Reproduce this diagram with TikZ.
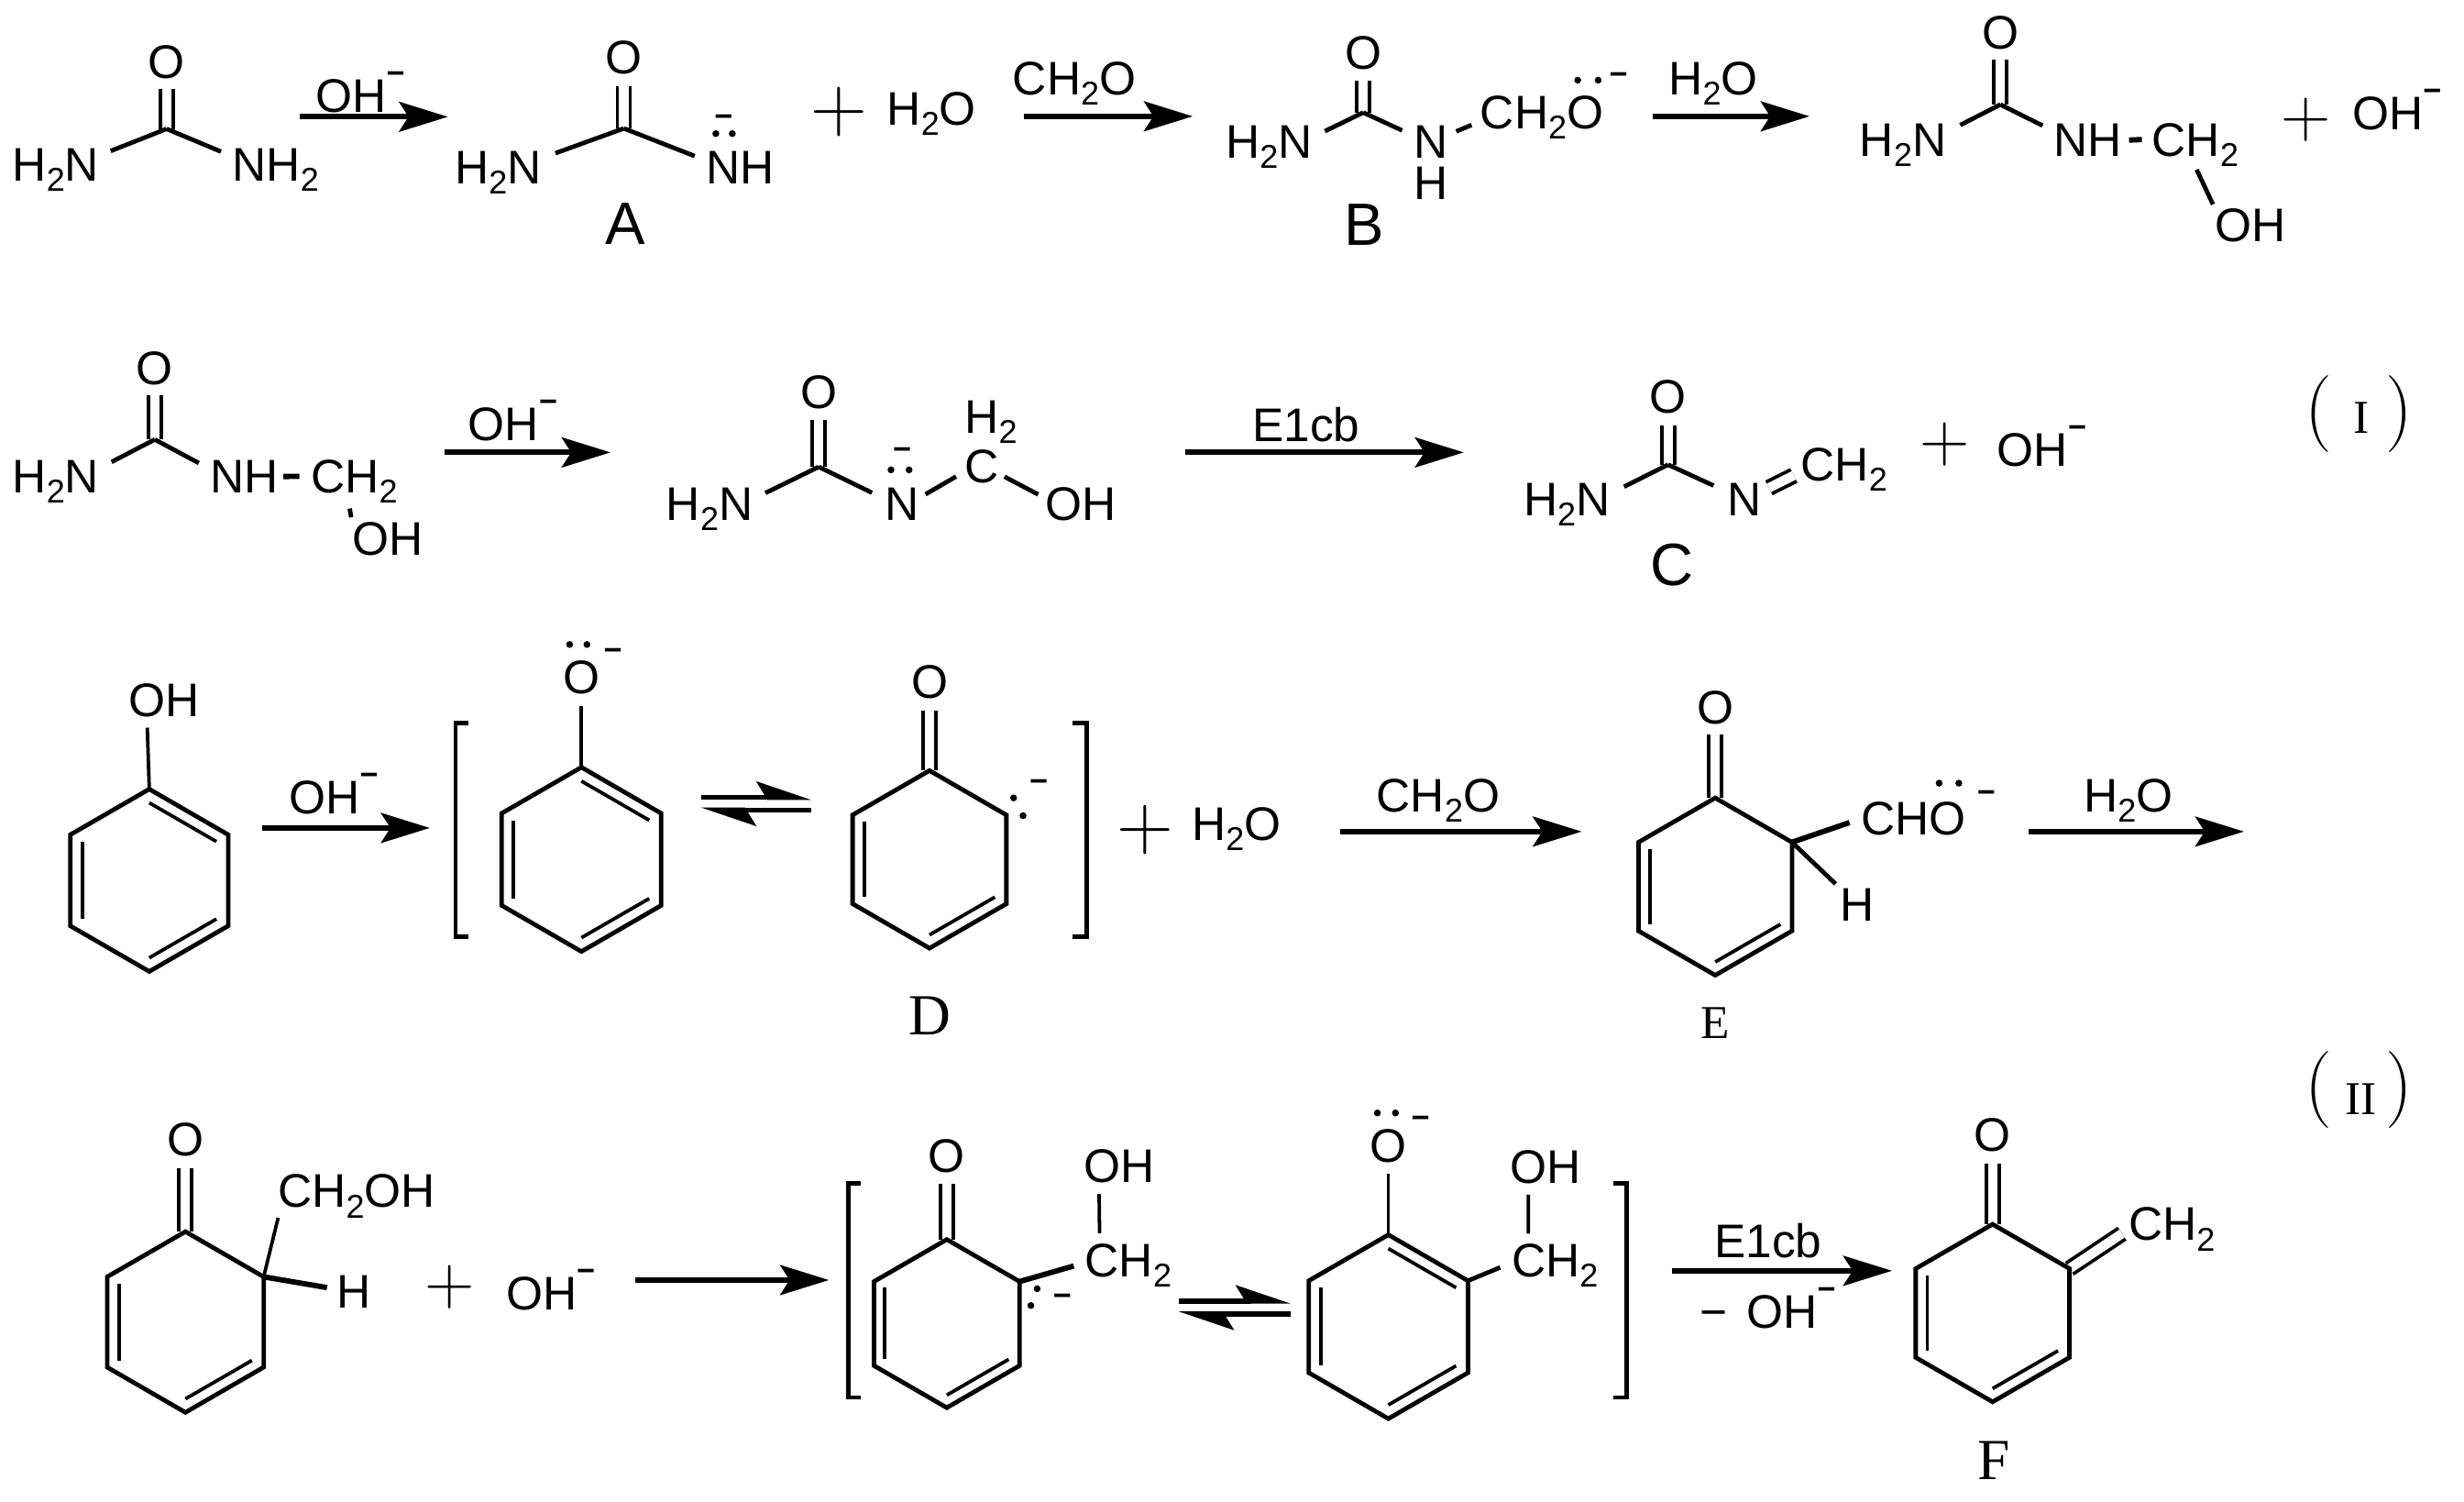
\documentclass[tikz,border=0pt]{standalone}
\usepackage{fontspec}
\setsansfont{Liberation Sans}
\newfontfamily\timesfont{Liberation Serif}
\usetikzlibrary{arrows.meta,calc,backgrounds}

\newcommand{\subtwo}{\raisebox{-6.5pt}{\fontsize{21}{21}\selectfont 2}}
\newcommand{\mns}{\raisebox{18pt}{\fontsize{20}{20}\bfseries\selectfont −}}
\tikzset{
  txt/.style={inner sep=0pt,outer sep=0pt,anchor=base west,font=\sffamily\fontsize{30}{30}\selectfont},
  atom/.style={txt,xshift=-2pt},
  oatom/.style={txt,anchor=base},
  lab/.style={txt,anchor=base,font=\sffamily\fontsize{38}{38}\selectfont},
  rlab/.style={txt,anchor=base,font=\timesfont\fontsize{#1}{#1}\selectfont},
  rlab/.default=37,
  num/.style={txt,anchor=base,font=\timesfont\fontsize{30}{30}\selectfont},
  brace/.style={txt,font=\rmfamily\fontsize{49}{49}\selectfont},
  plusn/.style={inner sep=0pt,outer sep=0pt,font=\rmfamily\fontsize{#1}{#1}\selectfont},
  plusn/.default=44,
  chg/.style={inner sep=0pt,outer sep=0pt,font=\sffamily\bfseries\fontsize{20}{20}\selectfont},
  lp/.style={circle,fill=black,inner sep=0pt,minimum size=4.4pt},
  bond/.style={line width=2.8pt},
  dbond/.style={line width=2.2pt,double,double distance=6pt},
  ibond/.style={line width=2.2pt},
  brk/.style={line width=2.6pt},
  rxn/.style={line width=3.4pt,-{Stealth[length=31pt,width=19pt,inset=6pt]}},
  eqtop/.style={line width=3.4pt,-{Stealth[harpoon,length=30pt,width=20pt,inset=6pt]}}
}
\newcommand{\hexring}[4]{%
  \coordinate (#1o) at (#2,#3);
  \coordinate (#1a) at (#2,{#3-#4});
  \coordinate (#1b) at ({#2+0.866*#4},{#3-0.5*#4});
  \coordinate (#1c) at ({#2+0.866*#4},{#3+0.5*#4});
  \coordinate (#1d) at (#2,{#3+#4});
  \coordinate (#1e) at ({#2-0.866*#4},{#3+0.5*#4});
  \coordinate (#1f) at ({#2-0.866*#4},{#3-0.5*#4});
  \draw[bond] (#1a) -- (#1b) -- (#1c) -- (#1d) -- (#1e) -- (#1f) -- cycle;
}
\newcommand{\innerbond}[3]{\draw[ibond] ($(#1#2)!0.15!(#1o)$) -- ($(#1#3)!0.15!(#1o)$);}

\begin{document}
\begin{tikzpicture}[x=1pt,y=-1pt]
\useasboundingbox (0,0) rectangle (1568,955);
%First row: urea
\coordinate (cU) at (106,82);
\node[oatom] (oU) at (106,49.6) {O};
\node[atom] (hnU) at (10,115) {H\subtwo N};
\node[atom] (nhU) at (150,115) {NH\subtwo};
\draw[dbond,shorten >=6.4pt] (cU) -- (oU.south);
\draw[bond,shorten >=8pt] (cU) -- (hnU.18);
\draw[bond,shorten >=8pt] (cU) -- (nhU.163);
\coordinate (a1s) at (191,74.3);
\coordinate (a1e) at (285,74.3);
\draw[rxn] (a1s) -- (a1e);
\node[atom] (ohA1) at (203,71.5) {OH\mns};
%A
\coordinate (cA) at (397,81.7);
\node[oatom] (oA) at (397,46.7) {O};
\node[atom] (hnA) at (291.5,116.7) {H\subtwo N};
\node[atom] (nhA) at (451.5,116.7) {NH};
\node[lab] (labA) at (398,155.6) {A};
\node[lp] (dA1) at (455.5,85) {};
\node[lp] (dA2) at (466,85) {};
\node[chg] (mA) at (460.5,76.8) {−};
\draw[dbond,shorten >=7.8pt] (cA) -- (oA.south);
\draw[bond,shorten >=9.5pt] (cA) -- (hnA.18);
\draw[bond,shorten >=8pt] (cA) -- (nhA.169);
\node[plusn=50] (plus1) at (534,71) {+};
\node[atom] (wat1) at (566.5,79.8) {H\subtwo O};
\coordinate (a2s) at (651.5,74);
\coordinate (a2e) at (759,74);
\draw[rxn] (a2s) -- (a2e);
\node[atom] (form1) at (646.5,60.3) {CH\subtwo O};
%B
\coordinate (cB) at (867.5,71.6);
\node[oatom] (oB) at (867.5,43.8) {O};
\node[atom] (hnB) at (782,100.8) {H\subtwo N};
\node[atom] (nB) at (901.5,100.8) {N};
\node[atom] (hB) at (902,127) {H};
\node[atom] (chB) at (944,81.7) {CH\subtwo O};
\node[lp] (dB1) at (1004,51) {};
\node[lp] (dB2) at (1017,51) {};
\node[chg] (mB) at (1030,50) {−};
\node[lab] (labB) at (868,156) {B};
\draw[dbond,shorten >=7.2pt] (cB) -- (oB.south);
\draw[bond,shorten >=9pt] (cB) -- (hnB.13);
\draw[bond,shorten >=8pt] (cB) -- (nB.159);
\draw[bond,shorten <=6pt,shorten >=6pt] (nB.23) -- (chB.184);
\coordinate (a3s) at (1051.5,74);
\coordinate (a3e) at (1151.5,74);
\draw[rxn] (a3s) -- (a3e);
\node[atom] (wat2) at (1064,60.3) {H\subtwo O};
%Methylol urea
\coordinate (cP) at (1273,66.5);
\node[oatom] (oP) at (1273,31) {O};
\node[atom] (hnP) at (1185.5,99.6) {H\subtwo N};
\node[atom] (nhP) at (1309,99.6) {NH};
\node[atom] (chP) at (1371.5,99.6) {CH\subtwo};
\node[atom] (ohP) at (1411.5,153.7) {OH};
\draw[dbond,shorten >=6.4pt] (cP) -- (oP.south);
\draw[bond,shorten >=10pt] (cP) -- (hnP.17);
\draw[bond,shorten >=8pt] (cP) -- (nhP.165);
\draw[bond,line width=3.4pt,shorten <=4.5pt,shorten >=6.5pt] (nhP.east) -- (chP.172);
\draw[bond,shorten <=2pt,shorten >=3pt] (chP.south) -- (ohP.north west);
\node[plusn] (plus2) at (1467.5,76.3) {+};
\node[atom] (ohP2) at (1499,82.7) {OH\mns};

%Second row
\coordinate (cV) at (98.5,279.6);
\node[oatom] (oV) at (98.5,244.6) {O};
\node[atom] (hnV) at (10,313.5) {H\subtwo N};
\node[atom] (nhV) at (136,313.5) {NH};
\node[atom] (chV) at (200,313.5) {CH\subtwo};
\node[atom] (ohV) at (226,353) {OH};
\coordinate (tickV) at (222.5,323.5);
\draw[dbond,shorten >=6.6pt] (cV) -- (oV.south);
\draw[bond,shorten >=9pt] (cV) -- (hnV.17);
\draw[bond,shorten >=8.5pt] (cV) -- (nhV.168);
\draw[bond,line width=3.4pt,shorten <=3pt,shorten >=7.5pt] (nhV.east) -- (chV.173);
\draw[bond,shorten >=3pt] (tickV) -- (ohV.north west);
\coordinate (a4s) at (283,287.8);
\coordinate (a4e) at (388.5,287.8);
\draw[rxn] (a4s) -- (a4e);
\node[atom] (ohA4) at (300,280) {OH\mns};
%Anion
\coordinate (cM) at (521,297);
\node[oatom] (oM) at (521,259.6) {O};
\node[atom] (hnM) at (426,331) {H\subtwo N};
\node[atom] (nM) at (565,331) {N};
\node[lp] (dM1) at (567,298.9) {};
\node[lp] (dM2) at (578.5,298.9) {};
\node[chg] (mM) at (574,288.8) {−};
\node[atom] (c2M) at (616,306.9) {C};
\node[atom] (h2M) at (616,275.5) {H\subtwo};
\node[atom] (ohM) at (667.5,331) {OH};
\draw[dbond,shorten >=7.2pt] (cM) -- (oM.south);
\draw[bond,shorten >=9pt] (cM) -- (hnM.13.5);
\draw[bond,shorten >=9pt] (cM) -- (nM.163);
\draw[bond,shorten <=5pt,shorten >=6.5pt] (nM.19) -- (c2M.197);
\draw[bond,shorten <=4pt,shorten >=5.5pt] (c2M.-24) -- (ohM.171);
\coordinate (a5s) at (754,287.8);
\coordinate (a5e) at (931.5,287.8);
\draw[rxn] (a5s) -- (a5e);
\node[atom] (e1cb1) at (799,281) {E1cb};
%C
\coordinate (cC) at (1061.5,295.6);
\node[oatom] (oC) at (1061.5,262.9) {O};
\node[atom] (hnC) at (971.5,328) {H\subtwo N};
\node[atom] (nC) at (1101.5,328) {N};
\node[atom] (chC) at (1148,306) {CH\subtwo};
\node[lab] (labC) at (1064,372.4) {C};
\draw[dbond,shorten >=7.4pt] (cC) -- (oC.south);
\draw[bond,shorten >=10pt] (cC) -- (hnC.14);
\draw[bond,shorten >=10pt] (cC) -- (nC.157);
\draw[dbond,shorten <=5pt,shorten >=5pt] (nC.25) -- (chC.183.5);
\node[plusn] (plus3) at (1237.5,283) {+};
\node[atom] (ohC) at (1273,296.5) {OH\mns};
\node[brace] (lpar1) at (1467,275.5) {(};
\node[num] (num1) at (1502.5,275.5) {I};
\node[brace] (rpar1) at (1518.3,275.5) {)};

%Third row: phenol
\hexring{ra}{95}{560}{58}
\innerbond{ra}{a}{b}
\innerbond{ra}{c}{d}
\innerbond{ra}{e}{f}
\node[atom] (ohR) at (84,455.6) {OH};
\draw[bond,line width=2.2pt,shorten >=7pt] (raa) -- (ohR.-136.6);
\coordinate (a6s) at (167,526.7);
\coordinate (a6e) at (273.5,526.7);
\draw[rxn] (a6s) -- (a6e);
\node[atom] (ohA6) at (186,517.7) {OH\mns};
\draw[brk] (298,459.9) -- (290,459.9) -- (290,596) -- (298,596);
%D
\hexring{rb}{370}{546.7}{58.6}
\innerbond{rb}{a}{b}
\innerbond{rb}{c}{d}
\innerbond{rb}{e}{f}
\node[oatom] (oRb) at (370,441) {O};
\node[lp] (dRb1) at (362.5,410) {};
\node[lp] (dRb2) at (373.5,410) {};
\node[chg] (mRb) at (390,416.7) {−};
\draw[bond,line width=2.2pt,shorten >=8pt] (rba) -- (oRb.south);
\coordinate (e1s) at (446,507.2);
\coordinate (e1e) at (516.5,507.2);
\coordinate (e2s) at (516.5,515.4);
\coordinate (e2e) at (446,515.4);
\draw[eqtop] (e1s) -- (e1e);
\draw[eqtop] (e2s) -- (e2e);
\hexring{rc}{591.5}{546.7}{56.5}
\innerbond{rc}{c}{d}
\innerbond{rc}{e}{f}
\node[oatom] (oRc) at (591.5,444.4) {O};
\node[lp] (dRc1) at (645,507.6) {};
\node[lp] (dRc2) at (651,518.9) {};
\node[chg] (mRc) at (661,499.8) {−};
\draw[brk] (682.5,459.9) -- (691.5,459.9) -- (691.5,596) -- (682.5,596);
\node[rlab] (labD) at (591.5,658.4) {D};
\node[plusn=50] (plus4) at (728.5,528) {+};
\node[atom] (wat3) at (760.5,534.4) {H\subtwo O};
\coordinate (a7s) at (853,529);
\coordinate (a7e) at (1006.5,529);
\draw[rxn] (a7s) -- (a7e);
\node[atom] (form2) at (878,516.3) {CH\subtwo O};
%E
\hexring{rd}{1091.5}{564}{56.4}
\innerbond{rd}{c}{d}
\innerbond{rd}{e}{f}
\node[oatom] (oRd) at (1091.5,460.5) {O};
\node[atom] (choE) at (1186.5,531) {CHO};
\node[lp] (dE1) at (1234,498.2) {};
\node[lp] (dE2) at (1246.5,498.2) {};
\node[chg] (mE) at (1264,506.6) {−};
\node[atom] (hE) at (1173,585.7) {H};
\draw[bond,line width=3.4pt,shorten >=8pt] (rdb) -- (choE.west);
\draw[bond,shorten >=4pt] (rdb) -- (hE.north west);
\node[rlab=30] (labE) at (1091.5,660.7) {E};
\coordinate (a8s) at (1291,529);
\coordinate (a8e) at (1428,529);
\draw[rxn] (a8s) -- (a8e);
\node[atom] (wat4) at (1328,516.3) {H\subtwo O};
\node[brace] (lpar2) at (1467,705.4) {(};
\node[num] (num2) at (1502.5,708.9) {II};
\node[brace] (rpar2) at (1518.3,705.4) {)};

%Fourth row
\hexring{re}{118}{841}{57.5}
\innerbond{re}{c}{d}
\innerbond{re}{e}{f}
\node[oatom] (oRe) at (118,735.5) {O};
\node[atom] (chRe) at (179,768.2) {CH\subtwo OH};
\node[atom] (hRe) at (216.5,832.4) {H};
\draw[bond,line width=2.2pt] (reb) -- (chRe.south west);
\draw[bond,line width=3.4pt,shorten >=6.5pt] (reb) -- (hRe.170);
\node[plusn] (plus5) at (286,818.8) {+};
\node[atom] (ohRe) at (324,833.4) {OH\mns};
\coordinate (a9s) at (404,814.3);
\coordinate (a9e) at (527.5,814.3);
\draw[rxn] (a9s) -- (a9e);
\draw[brk] (547.5,752.7) -- (540,752.7) -- (540,888.9) -- (547.5,888.9);
\hexring{rf}{602.5}{842}{53.5}
\innerbond{rf}{c}{d}
\innerbond{rf}{e}{f}
\node[oatom] (oRf) at (602.5,745.9) {O};
\node[atom] (chRf) at (692.5,812.4) {CH\subtwo};
\node[atom] (ohRf) at (691.5,752.3) {OH};
\node[lp] (dF1) at (660,819.8) {};
\node[lp] (dF2) at (656,830.5) {};
\node[chg] (mF) at (676,827) {−};
\draw[bond,line width=3.4pt,shorten >=7.5pt] (rfb) -- (chRf.176);
\draw[bond,line width=2.2pt,shorten <=7pt,shorten >=7pt] (chRf.143.6) -- (ohRf.-140);
\coordinate (e3s) at (750,827.6);
\coordinate (e3e) at (821.5,827.6);
\coordinate (e4s) at (821.5,836);
\coordinate (e4e) at (750,836);
\draw[eqtop] (e3s) -- (e3e);
\draw[eqtop] (e4s) -- (e4e);
\hexring{rg}{883.5}{844}{58.5}
\innerbond{rg}{a}{b}
\innerbond{rg}{c}{d}
\innerbond{rg}{e}{f}
\node[oatom] (oRg) at (883.5,739.4) {O};
\node[lp] (dG1) at (876.5,708) {};
\node[lp] (dG2) at (888,708) {};
\node[chg] (mG) at (904,714) {−};
\node[atom] (chRg) at (964,812.4) {CH\subtwo};
\node[atom] (ohRg) at (963,752.7) {OH};
\draw[bond,line width=2.2pt,shorten >=7pt] (rga) -- (oRg.south);
\draw[bond,shorten >=8pt] (rgb) -- (chRg.176);
\draw[bond,line width=2.2pt,shorten <=6.7pt,shorten >=7pt] (chRg.141.3) -- (ohRg.-136.6);
\draw[brk] (1026.5,752.7) -- (1035,752.7) -- (1035,888.9) -- (1026.5,888.9);
\coordinate (a10s) at (1064,808.4);
\coordinate (a10e) at (1204,808.4);
\draw[rxn] (a10s) -- (a10e);
\node[atom] (e1cb2) at (1093,800) {E1cb};
\node[atom] (ohLoss) at (1083.5,845) {−\kern12.5pt OH\mns};
%F
\hexring{rh}{1268}{835.3}{56.5}
\innerbond{rh}{c}{d}
\innerbond{rh}{e}{f}
\node[oatom] (oRh) at (1268,732.2) {O};
\node[atom] (chRh) at (1356.5,789.2) {CH\subtwo};
\node[rlab] (labF) at (1269,941) {F};

%Ring C=O under the rings
\begin{scope}[on background layer]
\draw[dbond,shorten >=7.6pt] (rca) -- (oRc.south);
\draw[dbond,shorten >=6.5pt] (rda) -- (oRd.south);
\draw[dbond,shorten >=7.4pt] (rea) -- (oRe.south);
\draw[dbond,shorten >=7pt] (rfa) -- (oRf.south);
\draw[dbond,shorten >=7.8pt] (rha) -- (oRh.south);
\draw[dbond,shorten >=5pt] (rhb) -- (chRh.west);
\end{scope}
\end{tikzpicture}
\end{document}
